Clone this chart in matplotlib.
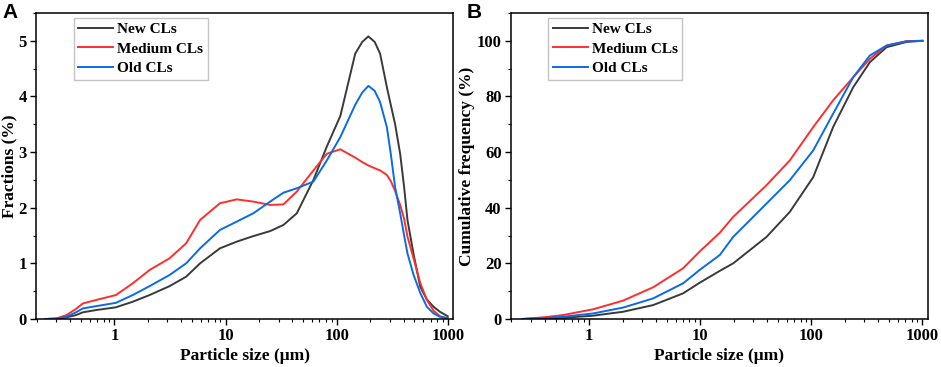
import matplotlib as mpl
mpl.use('Agg')
import matplotlib.pyplot as plt
import numpy as np

plt.rcParams['font.family'] = ['Liberation Serif', 'DejaVu Serif']
plt.rcParams['font.weight'] = 'bold'
plt.rcParams['axes.labelweight'] = 'bold'

# --- panel A: frequency distribution ---
size_freq = [0.24, 0.3, 0.37, 0.45, 0.52, 0.68, 1.03, 1.46, 2.07, 3.13, 4.42, 5.9,
             8.9, 12.6, 17.8, 25.2, 33.2, 43.8, 61.8, 81.6, 108, 147, 170, 193, 220,
             246, 283, 307, 336, 373, 405, 434, 491, 565, 649, 745, 850, 1000]
new_freq = [0, 0.005, 0.03, 0.07, 0.12, 0.16, 0.21, 0.31, 0.43, 0.59, 0.76, 1.0,
            1.27, 1.39, 1.49, 1.58, 1.69, 1.9, 2.5, 3.1, 3.65, 4.77, 4.98, 5.08, 4.98,
            4.77, 4.17, 3.85, 3.5, 2.97, 2.37, 1.78, 1.18, 0.58, 0.35, 0.22, 0.13, 0.05]
medium_freq = [0, 0.01, 0.07, 0.18, 0.28, 0.34, 0.43, 0.64, 0.88, 1.09, 1.36, 1.78,
               2.08, 2.15, 2.11, 2.05, 2.06, 2.29, 2.67, 2.97, 3.05, 2.9, 2.82, 2.76, 2.71,
               2.67, 2.59, 2.48, 2.3, 2.05, 1.8, 1.48, 1.1, 0.65, 0.34, 0.15, 0.05, 0.0]
old_freq = [0, 0.005, 0.04, 0.12, 0.19, 0.23, 0.29, 0.43, 0.59, 0.79, 1.0, 1.27,
            1.6, 1.75, 1.9, 2.11, 2.27, 2.35, 2.47, 2.85, 3.27, 3.85, 4.07, 4.19, 4.1,
            3.9, 3.45, 2.97, 2.37, 1.9, 1.5, 1.18, 0.8, 0.47, 0.22, 0.1, 0.04, 0.02]

# --- panel B: cumulative distribution ---
size_cum = [0.25, 0.39, 0.58, 1.09, 2.02, 3.77, 7.0, 9.86, 15.0, 19.8, 39.5, 64,
            104, 157, 238, 336, 475, 719, 1000]
new_cum = [0, 0.2, 0.4, 1.2, 2.6, 5.0, 9.2, 13.0, 17.3, 20.0, 29.5, 38.5,
           51.0, 69.0, 83.3, 92.3, 97.7, 99.6, 100]
medium_cum = [0, 0.6, 1.4, 3.5, 6.6, 11.4, 18.2, 24.2, 31.0, 36.7, 48.1, 57.0,
              69.0, 78.6, 86.9, 93.5, 98.3, 99.9, 100]
old_cum = [0, 0.3, 0.8, 2.0, 4.1, 7.4, 12.8, 17.6, 23.0, 29.5, 41.5, 49.9,
           60.6, 73.8, 86.9, 94.7, 98.3, 99.8, 100]

labels = ['New CLs', 'Medium CLs', 'Old CLs']
colors = ['#3a3a3a', '#ff2e2e', '#0a6be6']

fig = plt.figure(figsize=(9.41, 3.67), dpi=100)
axA = fig.add_axes([0.0383, 0.1308, 0.4431, 0.8338])
axB = fig.add_axes([0.5427, 0.1308, 0.4432, 0.8338])


def style(ax, ylim, ymajor, yminor, ylabel):
    ax.set_xscale('log')
    ax.set_xlim(0.197, 1115)
    ax.set_ylim(*ylim)
    ax.set_xticks([1, 10, 100, 1000])
    ax.set_xticklabels(['1', '10', '100', '1000'])
    ax.xaxis.set_minor_locator(mpl.ticker.LogLocator(base=10, subs=np.arange(2, 10)))
    ax.xaxis.set_minor_formatter(mpl.ticker.NullFormatter())
    ax.yaxis.set_major_locator(mpl.ticker.MultipleLocator(ymajor))
    ax.yaxis.set_minor_locator(mpl.ticker.MultipleLocator(yminor))
    ax.tick_params(which='major', direction='out', length=4.5, width=1.0, labelsize=12, pad=2)
    ax.tick_params(which='minor', direction='out', length=2.5, width=0.8)
    ax.tick_params(top=False, right=False, which='both')
    for sp in ax.spines.values():
        sp.set_linewidth(1.1)
    ax.set_xlabel('Particle size (\u03bcm)', fontsize=12.5, labelpad=3)
    ax.set_ylabel(ylabel, fontsize=12.5, labelpad=1)
    leg = ax.legend(loc='upper left', bbox_to_anchor=(0.09, 0.985), borderaxespad=0,
                    fancybox=False, edgecolor='#b4b4b4', fontsize=11, handlelength=2.3,
                    handletextpad=0.25, labelspacing=0.4, borderpad=0.3)
    leg.get_frame().set_linewidth(1.0)


for ys, lab, c in zip([new_freq, medium_freq, old_freq], labels, colors):
    axA.plot(size_freq, ys, color=c, lw=1.4, label=lab)
style(axA, (0, 5.5), 1, 0.5, 'Fractions (%)')

for ys, lab, c in zip([new_cum, medium_cum, old_cum], labels, colors):
    axB.plot(size_cum, ys, color=c, lw=1.4, label=lab)
style(axB, (0, 110), 20, 10, 'Cumulative frequency (%)')

fig.text(0.003, 0.993, 'A', ha='left', va='top', fontsize=15, fontweight='bold',
         family=['Liberation Sans', 'DejaVu Sans'])
fig.text(0.496, 0.993, 'B', ha='left', va='top', fontsize=15, fontweight='bold',
         family=['Liberation Sans', 'DejaVu Sans'])

fig.savefig('out.png', dpi=100)
